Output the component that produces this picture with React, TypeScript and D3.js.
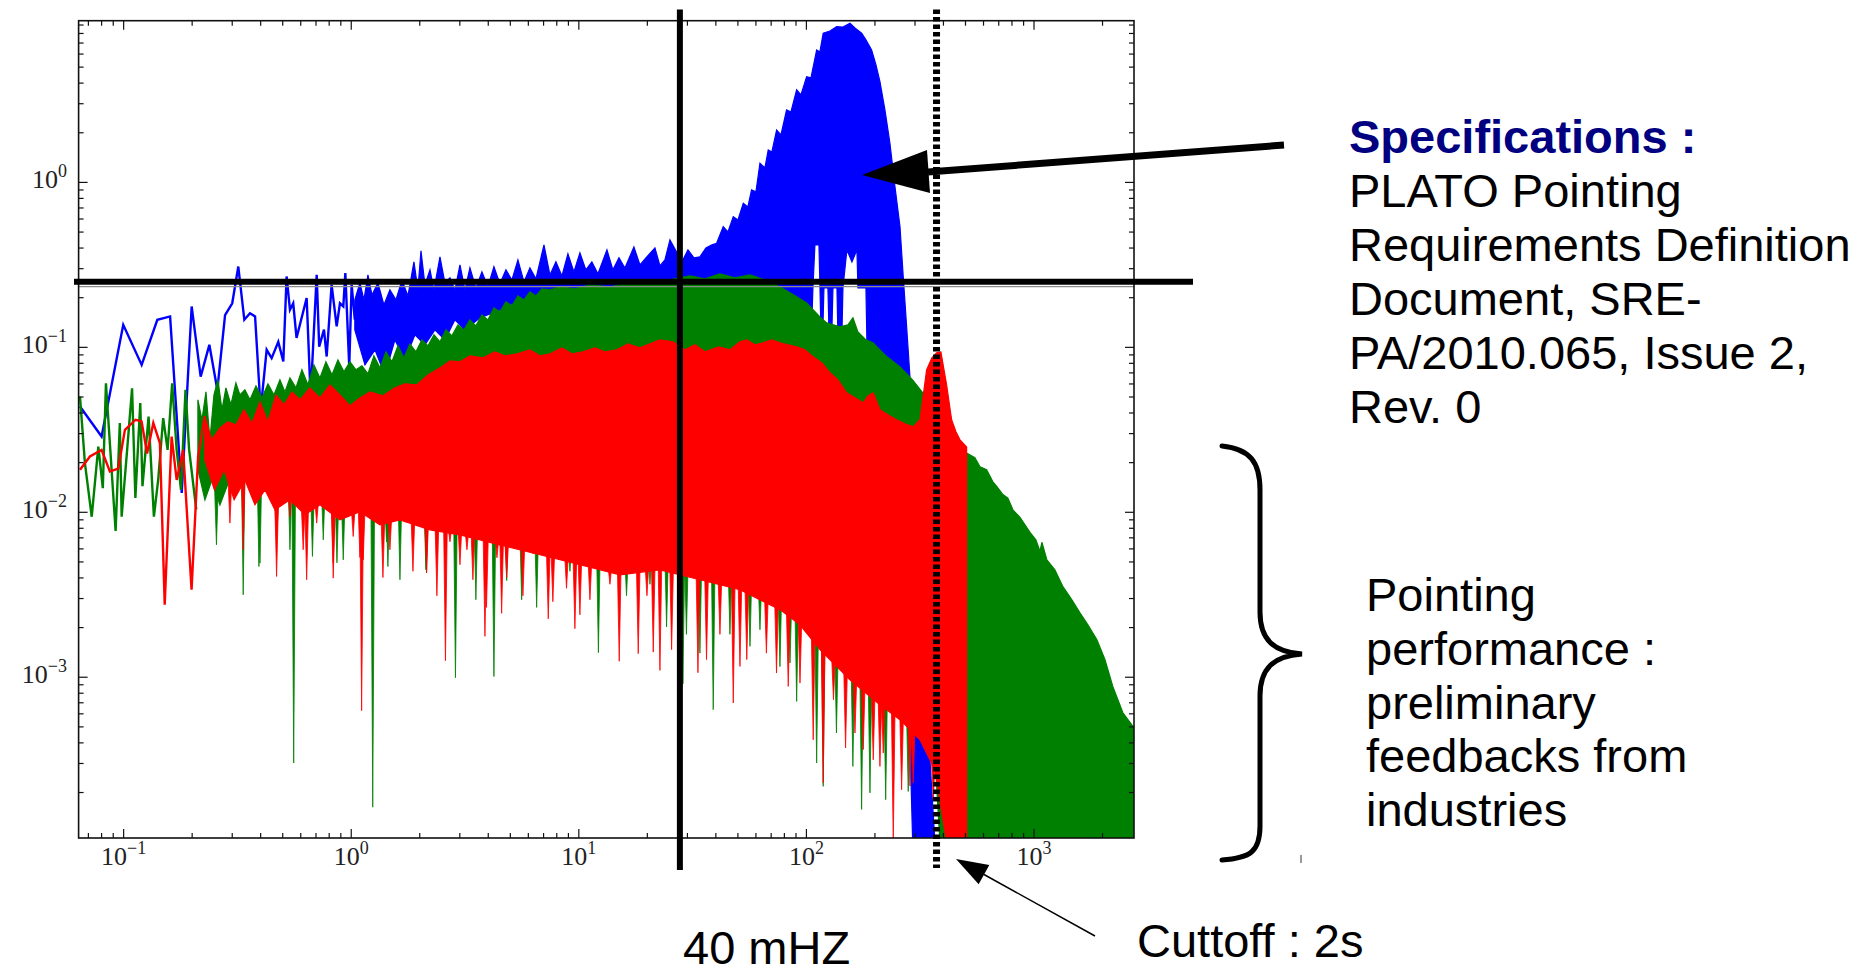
import React from 'react';
import * as d3 from 'd3';

type Pt = [number, number];

// ---------------- data (frequency, power) ----------------
const blueSparse: Pt[] = [
  [0.0643,0.0438],[0.080,0.0288],[0.0996,0.137],[0.120,0.0783],[0.1406,0.147],[0.160,0.154],[0.180,0.0131],
  [0.199,0.177],[0.218,0.0665],[0.238,0.1036],[0.258,0.0553],[0.279,0.157],[0.300,0.185],[0.319,0.309],
  [0.339,0.147],[0.359,0.161],[0.378,0.154],[0.400,0.0418],[0.425,0.0966],[0.447,0.086],[0.478,0.108],
  [0.503,0.082],[0.520,0.269],[0.538,0.169],[0.556,0.185],[0.575,0.114],[0.637,0.199],[0.663,0.0503],
  [0.705,0.275],[0.723,0.101],[0.759,0.128],[0.780,0.088],[0.820,0.239],[0.863,0.134],[0.892,0.185],
  [0.923,0.177],[0.942,0.282],[0.980,0.0765],[1.004,0.239],[1.037,0.147],
];
const blueTop: Pt[] = [
  [1.037,0.194],[1.092,0.246],[1.137,0.194],[1.184,0.275],[1.233,0.208],[1.31,0.246],[1.392,0.181],[1.479,0.223],
  [1.572,0.194],[1.671,0.256],[1.775,0.205],[1.886,0.33],[1.963,0.223],[2.025,0.385],[2.108,0.239],[2.218,0.295],
  [2.31,0.223],[2.454,0.354],[2.58,0.246],[2.715,0.264],[2.855,0.223],[3.004,0.316],[3.16,0.223],[3.323,0.303],
  [3.53,0.229],[3.752,0.287],[3.988,0.233],[4.236,0.308],[4.501,0.243],[4.783,0.295],[5.082,0.256],[5.40,0.339],
  [5.74,0.249],[6.097,0.303],[6.479,0.26],[7.028,0.418],[7.464,0.275],[7.932,0.33],[8.428,0.271],[8.955,0.369],
  [9.517,0.287],[10.11,0.374],[10.74,0.295],[11.41,0.33],[12.13,0.279],[13.29,0.39],[14.12,0.295],[15.01,0.349],
  [15.94,0.303],[17.46,0.406],[18.56,0.316],[19.72,0.349],[21.6,0.401],[22.72,0.312],[23.89,0.339],[25.14,0.448],
  [26.71,0.385],[28.38,0.33],[30.16,0.39],[32.05,0.349],[34.05,0.354],[36.18,0.401],[38.44,0.418],[40.3,0.428],
  [43.1,0.54],[45.2,0.501],[47.7,0.62],[50.0,0.592],[52.8,0.748],[55.3,0.71],[57.4,0.90],[60.0,0.876],
  [62.5,1.307],[65.7,1.224],[67.96,1.574],[70.5,1.53],[73.96,2.08],[77.3,1.941],[81.8,2.75],[85.5,2.675],
  [90.6,3.64],[94.6,3.391],[100.2,4.377],[104.7,4.30],[110.9,6.36],[114.6,6.18],[118.5,8.02],[126.9,8.28],
  [135.8,8.795],[144.7,8.758],[155.4,9.22],[163.4,8.64],[174.8,8.02],[182.6,7.31],[193.4,6.36],[202.1,5.153],
  [210.4,4.083],[221.3,2.75],[232.8,1.728],[244.9,0.943],[257.7,0.54],[266.3,0.2685],[275.6,0.1337],[285.0,0.0665],
  [299.8,0.0239],[315.3,0.00515],[331.7,0.00073],[348.9,0.000316],[367.0,0.0001],
];
const blueBottom: Pt[] = [
  [1.037,0.1277],[1.149,0.0783],[1.271,0.0966],[1.406,0.0681],[1.556,0.111],[1.721,0.084],[1.905,0.119],
  [2.108,0.1036],[2.332,0.1277],[2.58,0.111],[2.855,0.1468],[3.16,0.1277],[3.678,0.151],[4.501,0.1687],
  [5.511,0.194],[6.745,0.208],[12.38,0.194],[34.05,0.194],[93.7,0.1468],[105.7,0.1468],[106.8,0.2294],
  [109.0,0.418],[113.5,0.418],[114.7,0.2294],[115.8,0.1277],[118.1,0.1277],[119.4,0.2294],[124.3,0.2294],
  [125.6,0.1277],[129.4,0.1277],[130.8,0.2294],[136.2,0.2294],[137.5,0.119],[143.2,0.119],[144.7,0.2294],
  [150.6,0.39],[158.5,0.33],[166.7,0.39],[168.4,0.2294],[182.6,0.2294],[184.5,0.1036],[206.2,0.0966],
  [232.9,0.084],[257.7,0.0681],[293,0.0001],
];

const greenSparse: Pt[] = [
  [0.0643,0.0503],[0.0676,0.0198],[0.0724,0.0094],[0.0774,0.025],[0.081,0.014],[0.0836,0.0606],[0.087,0.0262],
  [0.0922,0.0077],[0.0962,0.0348],[0.098,0.0094],[0.1036,0.0239],[0.1089,0.0565],[0.1126,0.0122],[0.1183,0.0459],
  [0.121,0.0144],[0.1287,0.038],[0.1358,0.0094],[0.1418,0.0157],[0.1492,0.0372],[0.156,0.0239],[0.1634,0.0606],
  [0.171,0.0239],[0.1786,0.0137],[0.187,0.0553],[0.194,0.0239],[0.2085,0.0104],
];
const greenTop: Pt[] = [
  [0.212,0.0481],[0.2208,0.0364],[0.23,0.0537],[0.2394,0.0275],[0.2493,0.0515],[0.2597,0.0636],[0.2703,0.0418],
  [0.2815,0.0568],[0.296,0.0449],[0.3113,0.0609],[0.3243,0.0515],[0.341,0.0553],[0.3589,0.0481],[0.3814,0.0584],
  [0.4052,0.0494],[0.4306,0.0601],[0.4574,0.0515],[0.486,0.0636],[0.5114,0.0537],[0.538,0.0653],[0.5715,0.0568],
  [0.6073,0.0731],[0.6452,0.0593],[0.6858,0.0783],[0.7286,0.0653],[0.7741,0.0817],[0.8227,0.0681],[0.874,0.084],
  [0.9288,0.071],[0.987,0.0817],[1.049,0.0731],[1.114,0.0773],[1.184,0.0691],[1.258,0.0888],[1.337,0.0751],
  [1.421,0.0939],[1.51,0.0817],[1.604,0.1021],[1.704,0.0864],[1.811,0.105],[1.924,0.0939],[2.045,0.111],
  [2.173,0.1021],[2.31,0.119],[2.454,0.108],[2.607,0.1277],[2.77,0.1174],[2.943,0.1369],[3.127,0.1277],
  [3.323,0.1468],[3.53,0.135],[3.752,0.1574],[3.988,0.1468],[4.236,0.1735],[4.501,0.1641],[4.783,0.1887],
  [5.082,0.1785],[5.40,0.205],[5.74,0.194],[6.097,0.217],[6.479,0.205],[6.88,0.2262],[7.464,0.223],[8.26,0.2326],
  [9.617,0.2262],[11.19,0.239],[13.70,0.2326],[16.77,0.246],[20.54,0.2426],[25.14,0.2564],[30.78,0.2713],
  [35.8,0.26],[41.69,0.279],[48.5,0.2637],[56.5,0.275],[65.7,0.2564],[76.5,0.2326],[90.6,0.2023],[100.2,0.186],
  [114.7,0.153],[122.7,0.1408],[140.4,0.1331],[152.2,0.1369],[160.1,0.151],[168.4,0.124],[182.6,0.111],
  [195.9,0.1065],[225.8,0.0876],[257.7,0.0762],[292.6,0.0636],[324.5,0.053],[348.9,0.0449],[406,0.0316],
  [449.2,0.0256],[505.7,0.0229],[549.9,0.0214],[579,0.0189],[619,0.0181],[659.8,0.0153],[687.1,0.0143],
  [730,0.0128],[767.9,0.0122],[807.8,0.01035],[868,0.0093],[960,0.00756],[1019,0.00681],[1062,0.0058],
  [1083,0.00658],[1139,0.00515],[1235,0.00448],[1340,0.00354],[1467,0.00295],[1592,0.00246],[1725,0.00208],
  [1890,0.00169],[2049,0.00128],[2221,0.000876],[2458,0.000609],[2750,0.000494],
];
const greenBottom: Pt[] = [
  [0.212,0.0181],[0.2276,0.0119],[0.2443,0.0157],[0.2649,0.0111],[0.2931,0.016],[0.341,0.018],[0.3972,0.016],
  [0.4622,0.0125],[0.538,0.014],[0.626,0.0115],[0.7286,0.013],[0.892,0.0108],[1.092,0.012],[1.337,0.0101],
  [1.637,0.0108],[2.218,0.0094],[3.004,0.0088],[4.501,0.0076],[6.745,0.0066],[10.11,0.0058],[15.16,0.005],
  [22.72,0.0054],[34.05,0.0047],[51.05,0.0041],[76.5,0.0031],[93.7,0.0025],[114.7,0.00176],[155.4,0.00116],
  [210.4,0.00082],[257.7,0.00066],[285.1,0.0006],[315.5,0.0005],[367,0.00033],[386,0.0001],[2750,0.0001],
];
const greenSpikes: Pt[] = [
  [0.2557,0.00635],[0.3352,0.00316],[0.393,0.00469],[0.3972,0.00492],[0.538,0.00593],[0.5587,0.000302],
  [0.6754,0.0054],[0.7536,0.00681],[0.8655,0.00494],[0.9223,0.00515],[1.243,0.000163],[1.43,0.0066],
  [1.449,0.00469],[1.637,0.0039],[2.129,0.00448],[2.143,0.0043],[2.37,0.00663],[2.87,0.000993],[3.53,0.00295],
  [4.236,0.00101],[4.82,0.00385],[5.608,0.00295],[6.526,0.00265],[7.464,0.00532],[9.14,0.00439],[12.19,0.00141],
  [16.2,0.00312],[20.54,0.00366],[24.3,0.00202],[28.67,0.000913],[29.7,0.00182],[34.05,0.0014],[38.95,0.000636],
  [46.13,0.00182],[56.5,0.00154],[62.5,0.00194],[76.5,0.00116],[84.7,0.00122],[90.6,0.000713],[110.9,0.000302],
  [118.5,0.000218],[135.5,0.000459],[160,0.000288],[174.8,0.000158],[190.2,0.000199],[223,0.000181],
  [280.1,0.000203],[413,0.0001],[449,0.00012],
];

const redSparse: Pt[] = [
  [0.0643,0.0181],[0.0711,0.0218],[0.080,0.0239],[0.087,0.0177],[0.0947,0.0184],[0.1013,0.0316],[0.1129,0.0364],
  [0.1199,0.0356],[0.1268,0.0227],[0.135,0.0348],[0.1443,0.0263],[0.1515,0.00275],[0.1625,0.0288],[0.171,0.0157],
  [0.1826,0.0239],[0.1988,0.00339],[0.2125,0.0219],[0.2273,0.0382],
];
const redTop: Pt[] = [
  [0.2273,0.0381],[0.2436,0.0275],[0.2649,0.0325],[0.2872,0.0354],[0.3113,0.0339],[0.3378,0.0418],[0.3663,0.0346],
  [0.3972,0.0467],[0.4306,0.0354],[0.467,0.0515],[0.5063,0.0449],[0.549,0.0537],[0.595,0.0481],[0.658,0.0568],
  [0.7286,0.0494],[0.806,0.0593],[0.892,0.0515],[0.987,0.0442],[1.092,0.0494],[1.208,0.0537],[1.378,0.0508],
  [1.556,0.0568],[1.721,0.0601],[1.944,0.0593],[2.173,0.0681],[2.454,0.0751],[2.715,0.0828],[3.004,0.0817],
  [3.323,0.0888],[3.79,0.0864],[4.28,0.0939],[4.734,0.0888],[5.346,0.0913],[6.097,0.0966],[6.745,0.0888],
  [7.464,0.0913],[8.428,0.0993],[9.327,0.0913],[10.42,0.0939],[11.77,0.0993],[13.02,0.0939],[14.7,0.0966],
  [16.43,0.105],[18.56,0.0993],[20.54,0.105],[22.72,0.111],[25.91,0.108],[29.26,0.0966],[32.36,0.1036],
  [35.8,0.0939],[41.22,0.1007],[46.13,0.0966],[51.05,0.108],[54.72,0.111],[59.37,0.1036],[64.36,0.1065],
  [70.5,0.111],[76.5,0.1065],[82.9,0.1036],[90.6,0.1007],[98.5,0.0966],[107.1,0.0876],[117,0.0805],[127,0.0701],
  [137.5,0.0636],[150.2,0.053],[163.4,0.0494],[177.7,0.0461],[186.3,0.0508],[196.6,0.053],[210.4,0.0418],
  [228,0.039],[249.1,0.0364],[270.8,0.0344],[294.6,0.033],[315.5,0.0364],[337.3,0.0731],[355.9,0.0864],
  [373.3,0.0926],[389.9,0.0939],[413,0.0593],[434.5,0.0364],[453.9,0.0308],[473,0.0275],[505.7,0.0249],
];
const redBottom: Pt[] = [
  [0.2273,0.0208],[0.2505,0.01368],[0.2764,0.0181],[0.3058,0.0119],[0.341,0.0157],[0.3775,0.0111],[0.4176,0.01368],
  [0.4622,0.01035],[0.538,0.0119],[0.626,0.00966],[0.7286,0.0111],[0.892,0.009],[1.092,0.01007],[1.337,0.0084],
  [1.637,0.009],[2.218,0.00783],[3.004,0.0073],[4.501,0.00635],[6.745,0.00553],[10.11,0.00481],[15.16,0.00418],
  [22.72,0.00448],[34.05,0.0039],[51.05,0.00339],[76.5,0.00257],[93.7,0.00208],[114.7,0.00147],[155.4,0.000966],
  [210.4,0.000681],[257.7,0.000553],[315.5,0.000418],[367,0.000275],[413,0.0001],[505.7,0.0001],
];
const redSpikes: Pt[] = [
  [0.2931,0.0086],[0.3352,0.00593],[0.47,0.00408],[0.47,0.0065],[0.538,0.0094],[0.615,0.00593],[0.637,0.0039],
  [0.705,0.0086],[0.8335,0.00399],[0.834,0.00492],[1.02,0.00713],[1.111,0.000627],[1.129,0.00515],[1.092,0.00532],
  [1.378,0.00402],[1.479,0.00593],[1.867,0.00439],[2.143,0.0043],[2.379,0.00312],[2.594,0.00126],[2.715,0.00663],
  [3.004,0.00481],[3.224,0.00593],[3.424,0.0039],[3.868,0.00177],[3.93,0.00265],[4.368,0.0053],[4.58,0.00244],
  [4.82,0.00402],[5.68,0.00312],[6.285,0.0056],[7.34,0.00226],[7.69,0.00287],[8.83,0.00346],[9.61,0.00197],
  [10.11,0.00239],[11.19,0.00295],[13.7,0.00366],[15.05,0.00125],[18.24,0.00139],[19.92,0.00312],[21.23,0.00142],
  [22.72,0.0011],[25.57,0.00147],[27.7,0.00364],[33.37,0.001065],[36.4,0.00128],[41.69,0.00182],[47.7,0.000698],
  [51.05,0.001163],[54.7,0.00128],[66.7,0.0014],[73.9,0.00106],[83.2,0.00088],[93.7,0.000922],[107.1,0.000418],
  [118.5,0.000229],[131.5,0.00073],[148.6,0.000373],[163.4,0.000459],[177.7,0.000364],[196.6,0.000316],
  [210.4,0.000288],[217.6,0.000347],[240.7,0.0001],[262,0.000208],[285.1,0.000219],[294.6,0.000229],
  [361,0.000181],[457,0.000119],
];

const xDomain: [number, number] = [0.0634, 2750];
const yDomain: [number, number] = [1.06e-4, 9.56];
const xTickExps = [-1, 0, 1, 2, 3];
const yTickExps = [-3, -2, -1, 0];

const refFreq = 27.8;     // "40 mHZ" marker
const cutoffFreq = 373;   // "Cuttoff : 2s" marker
const specLevel = 0.25;   // specification level

const specTitle = 'Specifications :';
const specLines = ['PLATO Pointing', 'Requirements Definition', 'Document, SRE-', 'PA/2010.065, Issue 2,', 'Rev. 0'];
const perfLines = ['Pointing', 'performance :', 'preliminary', 'feedbacks from', 'industries'];
const refLabel = '40 mHZ';
const cutoffLabel = 'Cuttoff : 2s';

// ---------------- layout ----------------
const W = 1875, H = 976;
const PL = 78.6, PR = 1134, PT = 20.7, PB = 838;
const SANS = 'Liberation Sans, Arial, Helvetica, sans-serif';
const SERIF = 'Liberation Serif, Times New Roman, DejaVu Serif, serif';
const BLUE = '#0000ff', GREEN = '#008000', RED = '#ff0000';

function interpLog(arr: Pt[], f: number): number {
  if (f <= arr[0][0]) return arr[0][1];
  for (let i = 0; i < arr.length - 1; i++) {
    const [f0, v0] = arr[i], [f1, v1] = arr[i + 1];
    if (f >= f0 && f <= f1) {
      const t = (Math.log10(f) - Math.log10(f0)) / (Math.log10(f1) - Math.log10(f0) || 1);
      return Math.pow(10, Math.log10(v0) + t * (Math.log10(v1) - Math.log10(v0)));
    }
  }
  return arr[arr.length - 1][1];
}

function minorTicks(dom: [number, number]): number[] {
  const out: number[] = [];
  for (let e = -5; e <= 4; e++) for (let j = 2; j <= 9; j++) {
    const v = j * Math.pow(10, e);
    if (v >= dom[0] && v <= dom[1]) out.push(v);
  }
  return out;
}

export default function App() {
  const x = d3.scaleLog().domain(xDomain).range([PL, PR]);
  const y = d3.scaleLog().domain(yDomain).range([PB, PT]);
  const line = d3.line<Pt>().x(d => x(d[0])).y(d => y(d[1]));
  const band = (top: Pt[], bot: Pt[]) => (line([...top, ...bot.slice().reverse()]) || '') + 'Z';
  const spikes = (sp: Pt[], bot: Pt[]) =>
    sp.map(([f, v]) => {
      const px = x(f), yb = y(interpLog(bot, f) * 1.08), yv = y(Math.max(v, 1e-4));
      return `M${px - 1.8},${yb}L${px},${yv}L${px + 1.8},${yb}Z`;
    }).join('');

  const xMinor = minorTicks(xDomain);
  const yMinor = minorTicks(yDomain);
  const MAJ = 9, MIN = 5;

  const rx = x(refFreq), cx = x(cutoffFreq), sy = y(specLevel);

  // thin arrow geometry
  const tip: Pt = [956, 859], tail: Pt = [1095, 936];
  const dx = tip[0] - tail[0], dy = tip[1] - tail[1], len = Math.hypot(dx, dy);
  const ux = dx / len, uy = dy / len, hl = 32, hw = 11;
  const bx = tip[0] - ux * hl, by = tip[1] - uy * hl;

  return (
    <svg width={W} height={H} style={{ position: 'absolute', left: 0, top: 0, background: '#fff' }}>
      <defs>
        <clipPath id="plotClip"><rect x={PL} y={PT} width={PR - PL} height={PB - PT} /></clipPath>
      </defs>
      <rect x={0} y={0} width={W} height={H} fill="#fff" />
      <g clipPath="url(#plotClip)">
        <path d={line(blueSparse) || ''} fill="none" stroke={BLUE} strokeWidth={2.4} />
        <path d={band(blueTop, blueBottom)} fill={BLUE} stroke={BLUE} strokeWidth={1.2} />
        <path d={line(greenSparse) || ''} fill="none" stroke={GREEN} strokeWidth={2.4} />
        <path d={band(greenTop, greenBottom)} fill={GREEN} stroke={GREEN} strokeWidth={1.2} />
        <path d={spikes(greenSpikes, greenBottom)} fill={GREEN} stroke={GREEN} strokeWidth={0.8} />
        <path d={line(redSparse) || ''} fill="none" stroke={RED} strokeWidth={2.4} />
        <path d={band(redTop, redBottom)} fill={RED} stroke={RED} strokeWidth={1.2} />
        <path d={spikes(redSpikes, redBottom)} fill={RED} stroke={RED} strokeWidth={0.8} />
      </g>

      {/* gray double edge under spec line */}
      <line x1={PL} x2={PR} y1={sy + 5} y2={sy + 5} stroke="#8a8a8a" strokeWidth={1.3} />

      {/* frame */}
      <rect x={PL} y={PT} width={PR - PL} height={PB - PT} fill="none" stroke="#111" strokeWidth={1.6} />

      {/* ticks */}
      <g stroke="#111" strokeWidth={1.2}>
        {xTickExps.map(e => {
          const px = x(Math.pow(10, e));
          return <g key={'xM' + e}><line x1={px} x2={px} y1={PB} y2={PB - MAJ} /><line x1={px} x2={px} y1={PT} y2={PT + MAJ} /></g>;
        })}
        {xMinor.map((v, i) => {
          const px = x(v);
          return <g key={'xm' + i}><line x1={px} x2={px} y1={PB} y2={PB - MIN} /><line x1={px} x2={px} y1={PT} y2={PT + MIN} /></g>;
        })}
        {yTickExps.map(e => {
          const py = y(Math.pow(10, e));
          return <g key={'yM' + e}><line x1={PL} x2={PL + MAJ} y1={py} y2={py} /><line x1={PR} x2={PR - MAJ} y1={py} y2={py} /></g>;
        })}
        {yMinor.map((v, i) => {
          const py = y(v);
          return <g key={'ym' + i}><line x1={PL} x2={PL + MIN} y1={py} y2={py} /><line x1={PR} x2={PR - MIN} y1={py} y2={py} /></g>;
        })}
      </g>

      {/* tick labels */}
      <g fontFamily={SERIF} fill="#222">
        {xTickExps.map(e => (
          <text key={'xl' + e} x={x(Math.pow(10, e))} y={PB + 27} textAnchor="middle" fontSize={26}>
            10<tspan dy={-11} fontSize={18}>{e < 0 ? '\u2212' + (-e) : String(e)}</tspan>
          </text>
        ))}
        {yTickExps.map(e => (
          <text key={'yl' + e} x={67} y={y(Math.pow(10, e)) + 6} textAnchor="end" fontSize={26}>
            10<tspan dy={-11} fontSize={18}>{e < 0 ? '\u2212' + (-e) : String(e)}</tspan>
          </text>
        ))}
      </g>

      {/* reference lines */}
      <line x1={rx} x2={rx} y1={9.6} y2={870} stroke="#000" strokeWidth={6} />
      <line x1={74} x2={1193} y1={sy} y2={sy} stroke="#000" strokeWidth={6} />
      <line x1={cx} x2={cx} y1={9.6} y2={868} stroke="#000" strokeWidth={7} strokeDasharray="4.5 3" />

      {/* thick arrow to blue peak */}
      <line x1={1284} y1={145} x2={928} y2={172} stroke="#000" strokeWidth={7} />
      <polygon points="862,175 927,150 930,193" fill="#000" />

      {/* thin arrow to cutoff */}
      <line x1={tail[0]} y1={tail[1]} x2={bx} y2={by} stroke="#000" strokeWidth={1.5} />
      <polygon points={`${tip[0]},${tip[1]} ${bx - uy * hw},${by + ux * hw} ${bx + uy * hw},${by - ux * hw}`} fill="#000" />

      {/* brace */}
      <path d="M1222,446 C1250,449 1260,462 1260,490 L1260,612 C1260,640 1274,652 1302,654 C1274,656 1260,668 1260,696 L1260,826 C1260,852 1250,858 1222,860"
        fill="none" stroke="#000" strokeWidth={5} strokeLinecap="round" />
      <line x1={1301} x2={1301} y1={855} y2={863} stroke="#999" strokeWidth={2} />

      {/* texts */}
      <g fontFamily={SANS} fontSize={47}>
        <text x={1349} y={153} fontWeight="bold" fill="#000080">{specTitle}</text>
        {specLines.map((s, i) => <text key={'s' + i} x={1349} y={207 + 54 * i} fill="#000">{s}</text>)}
        {perfLines.map((s, i) => <text key={'p' + i} x={1366} y={611 + 53.8 * i} fill="#000">{s}</text>)}
        <text x={1137} y={957} fill="#000">{cutoffLabel}</text>
        <text x={683} y={964} fill="#000">{refLabel}</text>
      </g>
    </svg>
  );
}
